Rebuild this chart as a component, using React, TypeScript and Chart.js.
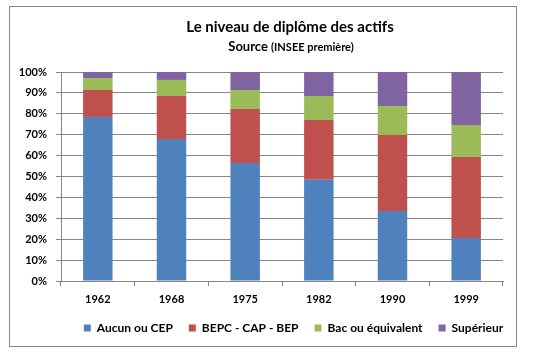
import React, { useEffect, useRef } from "react";
import { Chart, registerables } from "chart.js";

Chart.register(...registerables);

const categories = ["1962", "1968", "1975", "1982", "1990", "1999"];
const aucun = [78.5, 68, 56.5, 48.5, 33.5, 20.6];
const bepc = [12.9, 20.5, 25.8, 28.5, 36.4, 38.7];
const bac = [5.7, 7.7, 9.1, 11.5, 13.8, 15.3];
const sup = [2.9, 3.8, 8.6, 11.5, 16.3, 25.4];
const seriesNames = ["Aucun ou CEP", "BEPC - CAP - BEP", "Bac ou équivalent", "Supérieur"];
const titleText = "Le niveau de diplôme des actifs";
const subtitleBold = "Source";
const subtitleRest = "(INSEE première)";

const FONT = "Lato, 'Noto Sans', sans-serif";
const GRID = "#868686";

const framePlugin = {
  id: "frameAndTitle",
  beforeDraw(chart: any) {
    const ctx = chart.ctx;
    ctx.save();
    ctx.fillStyle = "#ffffff";
    ctx.fillRect(0, 0, chart.width, chart.height);
    ctx.strokeStyle = GRID;
    ctx.lineWidth = 1;
    ctx.strokeRect(9.5, 6.5, 507, 340);
    ctx.restore();
  },
  afterLayout(chart: any) {
    const l = chart.legend;
    if (l) {
      l.left += 37;
      l.right += 37;
    }
  },
  afterDraw(chart: any) {
    const ctx = chart.ctx;
    ctx.save();
    ctx.fillStyle = "#000000";
    ctx.textBaseline = "middle";
    ctx.textAlign = "center";
    ctx.font = `bold 15px ${FONT}`;
    ctx.fillText(titleText, 290, 27);
    ctx.font = `bold 13px ${FONT}`;
    const w1 = ctx.measureText(subtitleBold + " ").width;
    ctx.font = `bold 11px ${FONT}`;
    const w2 = ctx.measureText(subtitleRest).width;
    const start = 291 - (w1 + w2) / 2;
    ctx.textAlign = "left";
    ctx.font = `bold 13px ${FONT}`;
    ctx.fillText(subtitleBold, start, 47);
    ctx.font = `bold 11px ${FONT}`;
    ctx.fillText(subtitleRest, start + w1, 47.5);
    ctx.restore();
  },
};

export default function App() {
  const ref = useRef<HTMLCanvasElement>(null);
  useEffect(() => {
    if (!ref.current) return;
    const colors = ["#4F81BD", "#C0504D", "#9BBB59", "#8064A2"];
    const values = [aucun, bepc, bac, sup];
    const chart = new Chart(ref.current, {
      type: "bar",
      data: {
        labels: categories,
        datasets: values.map((v, i) => ({
          label: seriesNames[i],
          data: v,
          backgroundColor: colors[i],
          borderWidth: 0,
          categoryPercentage: 1,
          barPercentage: 0.4,
        })),
      },
      options: {
        responsive: false,
        animation: false,
        layout: { padding: { left: 10, right: 30, top: 72, bottom: 12 } },
        plugins: {
          title: { display: false },
          tooltip: { enabled: false },
          legend: {
            position: "bottom",
            fullSize: true,
            labels: {
              boxWidth: 7,
              boxHeight: 7,
              padding: 16,
              color: "#000",
              font: { family: FONT, size: 12, weight: "bold" },
            },
          },
        },
        scales: {
          x: {
            stacked: true,
            grid: { offset: true, drawOnChartArea: false, tickLength: 5, color: GRID },
            border: { color: GRID },
            ticks: { padding: 7, color: "#000", font: { family: FONT, size: 11, weight: "bold" } },
            afterFit: (s: any) => { s.height = 25; },
          },
          y: {
            stacked: true,
            min: 0,
            max: 100,
            grid: { color: GRID, tickLength: 5 },
            border: { color: GRID },
            ticks: {
              stepSize: 10,
              padding: 9,
              color: "#000",
              font: { family: FONT, size: 11, weight: "bold" },
              callback: (v: any) => v + "%",
            },
            afterFit: (s: any) => { s.width = 51; },
          },
        },
      },
      plugins: [framePlugin],
    });
    return () => chart.destroy();
  }, []);
  return (
    <div style={{ position: "fixed", left: 0, top: 0, width: 533, height: 356 }}>
      <canvas ref={ref} width={533} height={356} style={{ display: "block" }} />
    </div>
  );
}
